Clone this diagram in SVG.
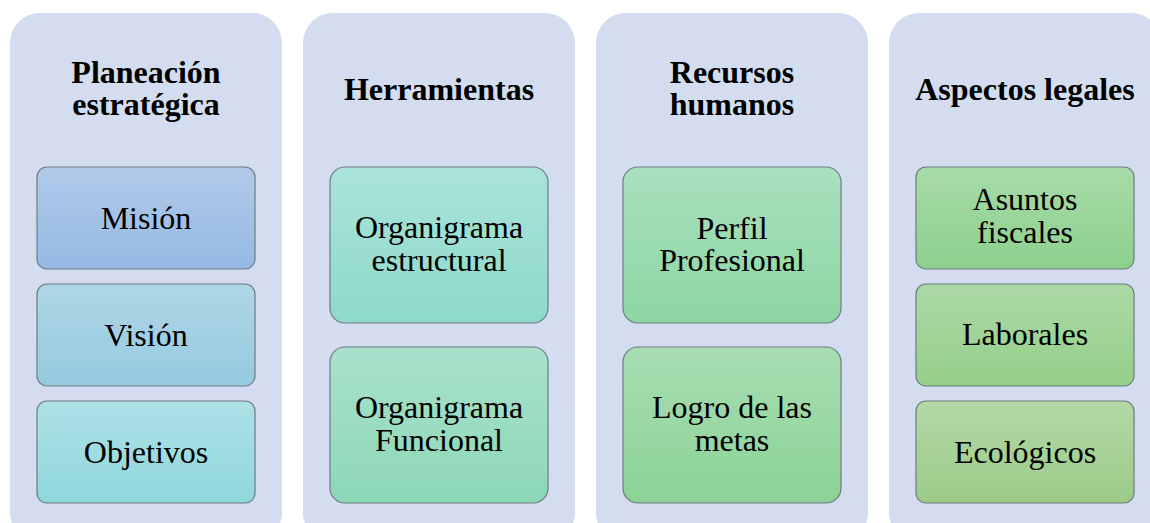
<svg xmlns="http://www.w3.org/2000/svg" width="1150" height="523" viewBox="0 0 1150 523">
<defs>
<style>
.panel{fill:#D3DDEF}
.box{stroke:#6E7B80;stroke-width:1.2}
.h{font-family:'Liberation Serif',serif;font-weight:bold;font-size:32px;fill:#000;text-anchor:middle}
.t{font-family:'Liberation Serif',serif;font-size:32px;fill:#000;text-anchor:middle}
</style>
<linearGradient id="g1" x1="0" y1="0" x2="0" y2="1"><stop offset="0" stop-color="#B1CAE9"/><stop offset="1" stop-color="#95B9E3"/></linearGradient>
<linearGradient id="g2" x1="0" y1="0" x2="0" y2="1"><stop offset="0" stop-color="#AFD6E6"/><stop offset="1" stop-color="#95CADF"/></linearGradient>
<linearGradient id="g3" x1="0" y1="0" x2="0" y2="1"><stop offset="0" stop-color="#AEE1E6"/><stop offset="1" stop-color="#8FD8DC"/></linearGradient>
<linearGradient id="g4" x1="0" y1="0" x2="0" y2="1"><stop offset="0" stop-color="#AAE3DA"/><stop offset="1" stop-color="#8DDACA"/></linearGradient>
<linearGradient id="g5" x1="0" y1="0" x2="0" y2="1"><stop offset="0" stop-color="#A9E1CC"/><stop offset="1" stop-color="#8CD8B7"/></linearGradient>
<linearGradient id="g6" x1="0" y1="0" x2="0" y2="1"><stop offset="0" stop-color="#A9E0BE"/><stop offset="1" stop-color="#8DD6A4"/></linearGradient>
<linearGradient id="g7" x1="0" y1="0" x2="0" y2="1"><stop offset="0" stop-color="#A8DDB2"/><stop offset="1" stop-color="#8CD397"/></linearGradient>
<linearGradient id="g8" x1="0" y1="0" x2="0" y2="1"><stop offset="0" stop-color="#A8DBA8"/><stop offset="1" stop-color="#8CD08D"/></linearGradient>
<linearGradient id="g9" x1="0" y1="0" x2="0" y2="1"><stop offset="0" stop-color="#ADD9A6"/><stop offset="1" stop-color="#95CE89"/></linearGradient>
<linearGradient id="g10" x1="0" y1="0" x2="0" y2="1"><stop offset="0" stop-color="#B3D8A6"/><stop offset="1" stop-color="#9CCB88"/></linearGradient>
</defs>
<rect width="1150" height="523" fill="#FFFFFF"/>

<g id="panel-planeacion">
<rect class="panel" x="10" y="13" width="272" height="530" rx="30"/>
<text class="h" x="146" y="83">Planeación</text>
<text class="h" x="146" y="115">estratégica</text>
</g>
<g id="node-mision">
<rect class="box" x="37" y="167" width="218" height="102" rx="10" fill="url(#g1)"/>
<text class="t" x="146" y="229">Misión</text>
</g>
<g id="node-vision">
<rect class="box" x="37" y="284" width="218" height="102" rx="10" fill="url(#g2)"/>
<text class="t" x="146" y="346">Visión</text>
</g>
<g id="node-objetivos">
<rect class="box" x="37" y="401" width="218" height="102" rx="10" fill="url(#g3)"/>
<text class="t" x="146" y="463">Objetivos</text>
</g>

<g id="panel-herramientas">
<rect class="panel" x="303" y="13" width="272" height="530" rx="30"/>
<text class="h" x="439" y="100">Herramientas</text>
</g>
<g id="node-org-estructural">
<rect class="box" x="330" y="167" width="218" height="156" rx="15" fill="url(#g4)"/>
<text class="t" x="439" y="238">Organigrama</text>
<text class="t" x="439" y="271">estructural</text>
</g>
<g id="node-org-funcional">
<rect class="box" x="330" y="347" width="218" height="156" rx="15" fill="url(#g5)"/>
<text class="t" x="439" y="418">Organigrama</text>
<text class="t" x="439" y="451">Funcional</text>
</g>

<g id="panel-recursos">
<rect class="panel" x="596" y="13" width="272" height="530" rx="30"/>
<text class="h" x="732" y="83">Recursos</text>
<text class="h" x="732" y="115">humanos</text>
</g>
<g id="node-perfil">
<rect class="box" x="623" y="167" width="218" height="156" rx="15" fill="url(#g6)"/>
<text class="t" x="732" y="239">Perfil</text>
<text class="t" x="732" y="271">Profesional</text>
</g>
<g id="node-logro">
<rect class="box" x="623" y="347" width="218" height="156" rx="15" fill="url(#g7)"/>
<text class="t" x="732" y="418">Logro de las</text>
<text class="t" x="732" y="451">metas</text>
</g>

<g id="panel-legales">
<rect class="panel" x="889" y="13" width="272" height="530" rx="30"/>
<text class="h" x="1025" y="100">Aspectos legales</text>
</g>
<g id="node-fiscales">
<rect class="box" x="916" y="167" width="218" height="102" rx="10" fill="url(#g8)"/>
<text class="t" x="1025" y="210">Asuntos</text>
<text class="t" x="1025" y="243">fiscales</text>
</g>
<g id="node-laborales">
<rect class="box" x="916" y="284" width="218" height="102" rx="10" fill="url(#g9)"/>
<text class="t" x="1025" y="345">Laborales</text>
</g>
<g id="node-ecologicos">
<rect class="box" x="916" y="401" width="218" height="102" rx="10" fill="url(#g10)"/>
<text class="t" x="1025" y="463">Ecológicos</text>
</g>
<g id="connectors"></g>
</svg>
